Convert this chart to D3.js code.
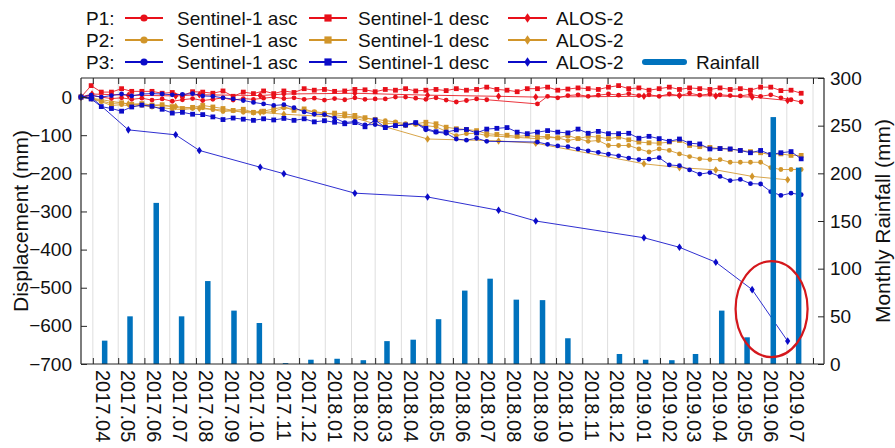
<!DOCTYPE html>
<html><head><meta charset="utf-8">
<script src="https://cdn.jsdelivr.net/npm/d3@7"></script>
<style>
body{margin:0;background:#fff}
svg{display:block}
text{font-family:"Liberation Sans",Arial,Helvetica,sans-serif;fill:#111}
</style>
</head><body>
<svg id="c" width="895" height="448"></svg>
<script>
// ---------------- DATA ----------------
const monthLabels = ["2017.04","2017.05","2017.06","2017.07","2017.08","2017.09","2017.10","2017.11","2017.12",
  "2018.01","2018.02","2018.03","2018.04","2018.05","2018.06","2018.07","2018.08","2018.09","2018.10","2018.11","2018.12",
  "2019.01","2019.02","2019.03","2019.04","2019.05","2019.06","2019.07"];
const rainfall = [24.5,50,169,50,87,56,43,1,4.5,5.5,4,24,25.5,47,77,89.5,67.5,67,27,0,10.5,4.5,4,10.5,56,28,259,206];

const xDomain = ["2017-03-18","2019-08-14"];
const dispTicks = [-700,-600,-500,-400,-300,-200,-100,0];
const rainTicks = [0,50,100,150,200,250,300];

const descDates = ["2017-03-18","2017-03-30","2017-04-11","2017-04-23","2017-05-05","2017-05-17","2017-05-29","2017-06-10",
 "2017-06-22","2017-07-04","2017-07-16","2017-07-28","2017-08-09","2017-08-21","2017-09-02","2017-09-14","2017-09-26",
 "2017-10-08","2017-10-20","2017-11-01","2017-11-13","2017-11-25","2017-12-07","2017-12-19","2017-12-31","2018-01-12",
 "2018-01-24","2018-02-05","2018-02-17","2018-03-01","2018-03-13","2018-03-25","2018-04-06","2018-04-18","2018-04-30",
 "2018-05-12","2018-05-24","2018-06-05","2018-06-17","2018-06-29","2018-07-11","2018-07-23","2018-08-04","2018-08-16",
 "2018-08-28","2018-09-09","2018-09-21","2018-10-03","2018-10-15","2018-10-27","2018-11-08","2018-11-20","2018-12-02",
 "2018-12-14","2018-12-26","2019-01-07","2019-01-19","2019-01-31","2019-02-12","2019-02-24","2019-03-08","2019-03-20",
 "2019-04-01","2019-04-13","2019-04-25","2019-05-07","2019-05-19","2019-05-31","2019-06-12","2019-06-24","2019-07-06","2019-07-18"];
const ascDates = ["2017-03-18","2017-03-30","2017-04-11","2017-04-23","2017-05-05","2017-05-17","2017-05-29","2017-06-10",
 "2017-06-22","2017-07-04","2017-07-16","2017-07-28","2017-08-09","2017-08-21","2017-09-02","2017-09-14","2017-09-26",
 "2017-10-08","2017-10-20","2017-11-01","2017-11-13","2017-11-25","2017-12-07","2017-12-19","2017-12-31","2018-01-12",
 "2018-01-24","2018-02-05","2018-02-17","2018-03-01","2018-03-13","2018-03-25","2018-04-06","2018-04-18","2018-04-30",
 "2018-05-12","2018-05-24","2018-06-05","2018-06-17","2018-06-29","2018-07-11",
 "2018-09-09","2018-09-21","2018-10-03","2018-10-15","2018-10-27","2018-11-08","2018-11-20","2018-12-02",
 "2018-12-14","2018-12-26","2019-01-07","2019-01-19","2019-01-31","2019-02-12","2019-02-24","2019-03-08","2019-03-20",
 "2019-04-01","2019-04-13","2019-04-25","2019-05-07","2019-05-19","2019-05-31","2019-06-12","2019-06-24","2019-07-06","2019-07-18"];
const alosDates = ["2017-03-18","2017-03-31","2017-05-13","2017-07-08","2017-08-05","2017-10-16","2017-11-13","2018-02-05",
 "2018-05-02","2018-07-25","2018-09-07","2019-01-13","2019-02-24","2019-04-08","2019-05-21","2019-07-02"];

const p1Asc = [0,4,0,-4,-2,-6,-3,-8,-5,-11,-7,-4,-9,-6,-2,-8,-4,-6,-3,0,-4,-2,-6,-3,-8,-4,-7,-2,-6,-5,-5,0,0,-3,-6,-2,-8,-13,-9,-5,-7,
 -18,2,-2,4,6,2,5,8,5,9,4,6,2,8,4,10,5,8,6,4,3,7,2,6,-2,-7,-13];
const p1Desc = [0,30,13,13,22,15,15,15,10,12,4,14,13,10,16,2,13,9,16,9,16,12,22,18,20,15,16,20,19,14,20,18,22,16,18,20,17,22,18,20,
 26,20,18,14,22,22,26,18,21,24,22,20,26,30,22,24,18,22,26,20,24,22,20,24,20,22,18,26,26,17,18,10];
const p1Alos = [0,8,5,3,6,4,8,10,5,2,0,2,4,3,0,-9];

const p2Asc = [0,-5,-12,-22,-20,-24,-22,-26,-28,-31,-33,-30,-28,-33,-38,-36,-40,-42,-40,-38,-28,-30,-36,-38,-42,-46,-50,-52,-56,-58,
 -62,-65,-70,-72,-75,-78,-90,-101,-96,-95,-101,
 -109,-106,-107,-114,-109,-116,-114,-127,-127,-127,-136,-144,-136,-140,-149,-156,-162,-164,-164,-171,-171,-171,-171,-185,-190,-190,-190];
const p2Desc = [0,-3,-10,-17,-15,-19,-17,-21,-20,-25,-30,-27,-22,-26,-30,-35,-32,-40,-37,-31,-26,-35,-31,-40,-44,-42,-44,-48,-54,-60,
 -70,-68,-74,-70,-66,-70,-79,-83,-85,-88,-96,-98,-100,-103,-101,-104,-103,-107,-101,-109,-103,-105,-109,-105,-112,-118,-120,-121,
 -118,-114,-127,-130,-132,-135,-137,-140,-143,-146,-151,-149,-153,-153];
const p2Alos = [0,-3,-18,-25,-30,-40,-45,-55,-110,-115,-121,-175,-185,-191,-208,-217];

const p3Asc = [0,5,0,4,8,3,8,9,8,6,7,9,3,2,-2,-5,-9,-14,-18,-22,-20,-28,-39,-45,-46,-55,-67,-64,-73,-72,-79,-75,-74,-68,-86,-92,-95,
 -110,-113,-108,-116,
 -118,-124,-128,-130,-136,-141,-145,-150,-154,-160,-164,-163,-159,-178,-180,-191,-202,-198,-208,-219,-216,-227,-228,-248,-258,-252,-256];
const p3Desc = [0,-5,-25,-30,-37,-26,-21,-24,-32,-42,-40,-45,-46,-52,-59,-55,-58,-61,-57,-60,-56,-61,-57,-65,-62,-66,-70,-67,-78,-60,
 -80,-75,-73,-67,-82,-91,-92,-86,-85,-94,-84,-82,-80,-92,-96,-92,-88,-92,-94,-84,-95,-90,-96,-96,-95,-108,-103,-109,-116,-110,
 -121,-123,-136,-135,-136,-140,-146,-140,-151,-146,-143,-162];
const p3Alos = [0,-2,-86,-99,-140,-184,-201,-252,-262,-297,-325,-369,-394,-433,-505,-640];

const pointNames = ["P1:","P2:","P3:"];
const sourceNames = ["Sentinel-1 asc","Sentinel-1 desc","ALOS-2"];
const rainName = "Rainfall";
const highlight = {date:"2019-06-13", value:-556};

// ---------------- STYLE / LAYOUT ----------------
const W=895, H=448, L=81, R=824, T=78, B=364;
const pColors = ["#e8101a","#d1952a","#0b0bc8"];
const rainColor = "#0072bd";
const axisColor = "#262626";
const parse = d3.timeParse("%Y-%m-%d");
const parseMonth = d3.timeParse("%Y.%m");

const svg = d3.select("#c");
const x = d3.scaleTime().domain(xDomain.map(parse)).range([L,R]);
const yL = d3.scaleLinear().domain([-700,50]).range([B,T]);
const yR = d3.scaleLinear().domain([0,300]).range([B,T]);

// grid lines at month starts
const monthStarts = d3.timeMonth.range(parseMonth(monthLabels[0]), x.domain()[1]);
svg.append("g").selectAll("line").data(monthStarts).join("line")
  .attr("x1",d=>x(d)).attr("x2",d=>x(d)).attr("y1",T).attr("y2",B)
  .attr("stroke","#dedede").attr("stroke-width",1);

// marker paths
function markerPath(shape, s){
  if(shape==="circle"){ const p=d3.path(); p.arc(0,0,s,0,2*Math.PI); return p.toString(); }
  if(shape==="square"){ return `M${-s},${-s}h${2*s}v${2*s}h${-2*s}Z`; }
  return `M0,${-s*1.45}L${s},0L0,${s*1.45}L${-s},0Z`;
}

const series = [
  {dates:ascDates, vals:p1Asc, c:0, shape:"circle"},
  {dates:descDates, vals:p1Desc, c:0, shape:"square"},
  {dates:alosDates, vals:p1Alos, c:0, shape:"diamond"},
  {dates:ascDates, vals:p2Asc, c:1, shape:"circle"},
  {dates:descDates, vals:p2Desc, c:1, shape:"square"},
  {dates:alosDates, vals:p2Alos, c:1, shape:"diamond"},
  {dates:ascDates, vals:p3Asc, c:2, shape:"circle"},
  {dates:descDates, vals:p3Desc, c:2, shape:"square"},
  {dates:alosDates, vals:p3Alos, c:2, shape:"diamond"}
];
const line = d3.line().x(d=>x(d.t)).y(d=>yL(d.v));
const sizes = {circle:2.4, square:2.4, diamond:2.6};
series.forEach(s=>{
  const pts = s.dates.map((d,i)=>({t:parse(d), v:s.vals[i]}));
  const g = svg.append("g");
  g.append("path").datum(pts).attr("d",line).attr("fill","none")
   .attr("stroke",pColors[s.c]).attr("stroke-width",1).attr("stroke-opacity",0.85);
  g.selectAll("path.m").data(pts).join("path").attr("class","m")
   .attr("transform",d=>`translate(${x(d.t)},${yL(d.v)})`)
   .attr("d",markerPath(s.shape,sizes[s.shape])).attr("fill",pColors[s.c]);
});

// rainfall bars (mid-month)
const barW = 5.5;
svg.append("g").selectAll("rect").data(rainfall).join("rect")
  .attr("x",(d,i)=>x(d3.timeDay.offset(parseMonth(monthLabels[i]),14))-barW/2)
  .attr("width",barW)
  .attr("y",d=>yR(d)).attr("height",d=>yR(0)-yR(d))
  .attr("fill",rainColor);

// highlight ellipse
svg.append("ellipse").attr("cx",x(parse(highlight.date))).attr("cy",yL(highlight.value))
  .attr("rx",36).attr("ry",48).attr("fill","none").attr("stroke","#d4171c").attr("stroke-width",2.2);

// axes
const fs = "19px";
const gl = svg.append("g").attr("transform",`translate(${L},0)`)
  .call(d3.axisLeft(yL).tickValues(dispTicks).tickSize(-6).tickSizeOuter(0).tickPadding(9));
const gr = svg.append("g").attr("transform",`translate(${R},0)`)
  .call(d3.axisRight(yR).tickValues(rainTicks).tickSize(-6).tickSizeOuter(0).tickPadding(6));
const gb = svg.append("g").attr("transform",`translate(0,${B})`)
  .call(d3.axisBottom(x).tickValues(monthStarts).tickSize(-6).tickSizeOuter(0).tickFormat(""));
const gt = svg.append("g").attr("transform",`translate(0,${T})`)
  .call(d3.axisTop(x).tickValues(monthStarts).tickSize(-6).tickSizeOuter(0).tickFormat(""));
[gl,gr,gb,gt].forEach(g=>{
  g.selectAll("path.domain").attr("stroke",axisColor).attr("stroke-width",1.2);
  g.selectAll(".tick line").attr("stroke",axisColor).attr("stroke-width",1);
  g.selectAll("text").attr("font-size",fs).attr("fill","#111")
    .style("font-family","'Liberation Sans',Arial,sans-serif");
});
gl.select("path.domain").attr("d",`M0,${T}V${B}`);
gr.select("path.domain").attr("d",`M0,${T}V${B}`);
gb.select("path.domain").attr("d",`M${L},0H${R}`);
gt.select("path.domain").attr("d",`M${L},0H${R}`);

// month labels rotated
svg.append("g").selectAll("text").data(monthLabels).join("text")
  .attr("transform",d=>`translate(${x(d3.timeDay.offset(parseMonth(d),14))-2},${B+6}) rotate(90)`)
  .attr("text-anchor","start").attr("dominant-baseline","central")
  .attr("font-size","20px").text(d=>d);

// axis titles
svg.append("text").attr("transform",`translate(20,${(T+B)/2}) rotate(-90)`)
  .attr("text-anchor","middle").attr("dominant-baseline","central").attr("font-size","21px")
  .text("Displacement (mm)");
svg.append("text").attr("transform",`translate(882,${(T+B)/2}) rotate(-90)`)
  .attr("text-anchor","middle").attr("dominant-baseline","central").attr("font-size","21px")
  .text("Monthly Rainfall (mm)");

// legend
const rowY = [18,40,62];
const colLine = [[125,163],[309,347],[508,547]];
const colText = [177,358,556];
const shapes = ["circle","square","diamond"];
const lg = svg.append("g");
pointNames.forEach((p,r)=>{
  lg.append("text").attr("x",86).attr("y",rowY[r]).attr("dominant-baseline","central")
    .attr("font-size",fs).text(p);
  sourceNames.forEach((s,c)=>{
    const [a,b] = colLine[c];
    lg.append("line").attr("x1",a).attr("x2",b).attr("y1",rowY[r]).attr("y2",rowY[r])
      .attr("stroke",pColors[r]).attr("stroke-width",2);
    lg.append("path").attr("transform",`translate(${(a+b)/2},${rowY[r]})`)
      .attr("d",markerPath(shapes[c], c===2?3.2:3.6)).attr("fill",pColors[r]);
    lg.append("text").attr("x",colText[c]).attr("y",rowY[r]).attr("dominant-baseline","central")
      .attr("font-size",fs).text(s);
  });
});
lg.append("line").attr("x1",645).attr("x2",684).attr("y1",rowY[2]).attr("y2",rowY[2])
  .attr("stroke",rainColor).attr("stroke-width",6).attr("stroke-linecap","round");
lg.append("text").attr("x",696).attr("y",rowY[2]).attr("dominant-baseline","central")
  .attr("font-size",fs).text(rainName);
</script>
</body></html>
